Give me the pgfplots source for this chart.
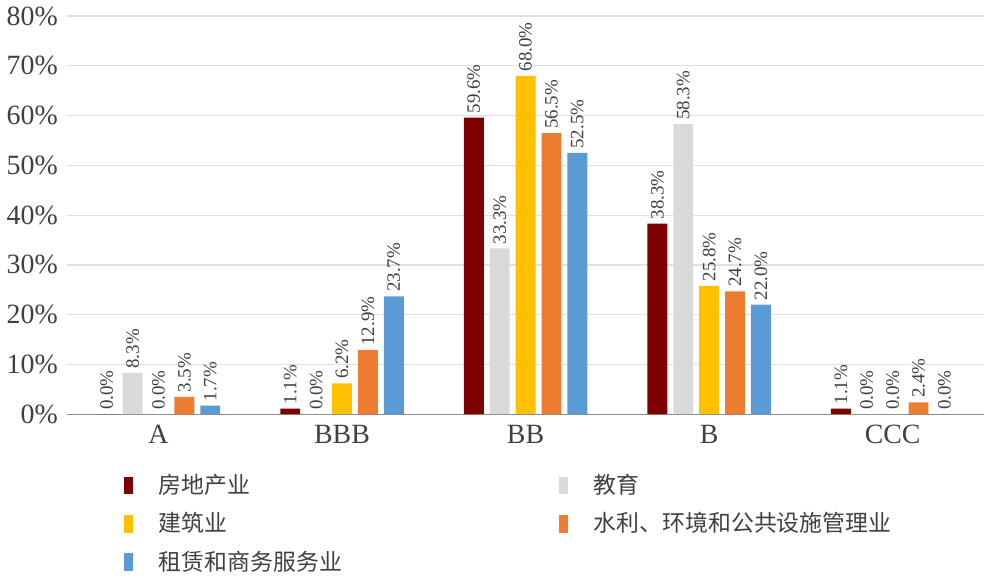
\documentclass[border=0pt]{standalone}
\usepackage{pgfplots}
\pgfplotsset{compat=1.18}
\usepackage{fontspec}
\setmainfont{Liberation Serif}
\newfontfamily\cjk{Noto Sans CJK SC}

\definecolor{cRed}{HTML}{7F0000}
\definecolor{cGray}{HTML}{D9D9D9}
\definecolor{cYel}{HTML}{FFC000}
\definecolor{cOra}{HTML}{ED7D31}
\definecolor{cBlu}{HTML}{5B9BD5}
\definecolor{txt}{HTML}{404040}

\begin{document}
\begin{tikzpicture}
\begin{axis}[
    scale only axis,
    width=461pt, height=200pt,
    ybar, bar width=10pt, ybar=3pt,
    ymin=0, ymax=80, ytick={0,10,...,80},
    xmin=-0.5, xmax=4.5,
    xtick=data,
    xticklabels={A,BBB,BB,B,CCC},
    /pgf/number format/assume math mode=true,
    yticklabel={\pgfmathprintnumber{\tick}\%},
    major tick length=0pt,
    axis lines*=left,
    x axis line style={draw=black!45},
    y axis line style={draw=none},
    ymajorgrids, grid style={draw=black!12, line width=0.6pt},
    tick label style={font=\fontsize{14}{14}\selectfont, text=txt},
    yticklabel style={xshift=-1pt},
    xticklabel style={yshift=-2pt},
    nodes near coords={\pgfmathprintnumber[fixed,fixed zerofill,precision=1]{\pgfplotspointmeta}\%},
    every node near coord/.append style={rotate=90, anchor=west, font=\fontsize{9.5}{9.5}\selectfont, text=txt, inner sep=2pt},
    legend columns=2,
    legend cell align=left,
    legend image code/.code={\fill[#1] (0pt,-4.5pt) rectangle (4.5pt,4.5pt);},
    legend style={draw=none, at={(0.062,-0.14)}, anchor=north west,
        inner sep=0pt, font=\cjk\fontsize{11.5}{11.5}\selectfont, text=txt,
        /tikz/every even column/.style={column sep=96pt},
        row sep=4pt,
        nodes={inner xsep=13pt}},
]
\addplot[fill=cRed, draw=none] coordinates {(0,0.0) (1,1.1) (2,59.6) (3,38.3) (4,1.1)};
\addplot[fill=cGray, draw=none] coordinates {(0,8.3) (1,0.0) (2,33.3) (3,58.3) (4,0.0)};
\addplot[fill=cYel, draw=none] coordinates {(0,0.0) (1,6.2) (2,68.0) (3,25.8) (4,0.0)};
\addplot[fill=cOra, draw=none] coordinates {(0,3.5) (1,12.9) (2,56.5) (3,24.7) (4,2.4)};
\addplot[fill=cBlu, draw=none] coordinates {(0,1.7) (1,23.7) (2,52.5) (3,22.0) (4,0.0)};
\legend{房地产业,教育,建筑业,水利、环境和公共设施管理业,租赁和商务服务业}
\end{axis}
\end{tikzpicture}
\end{document}
